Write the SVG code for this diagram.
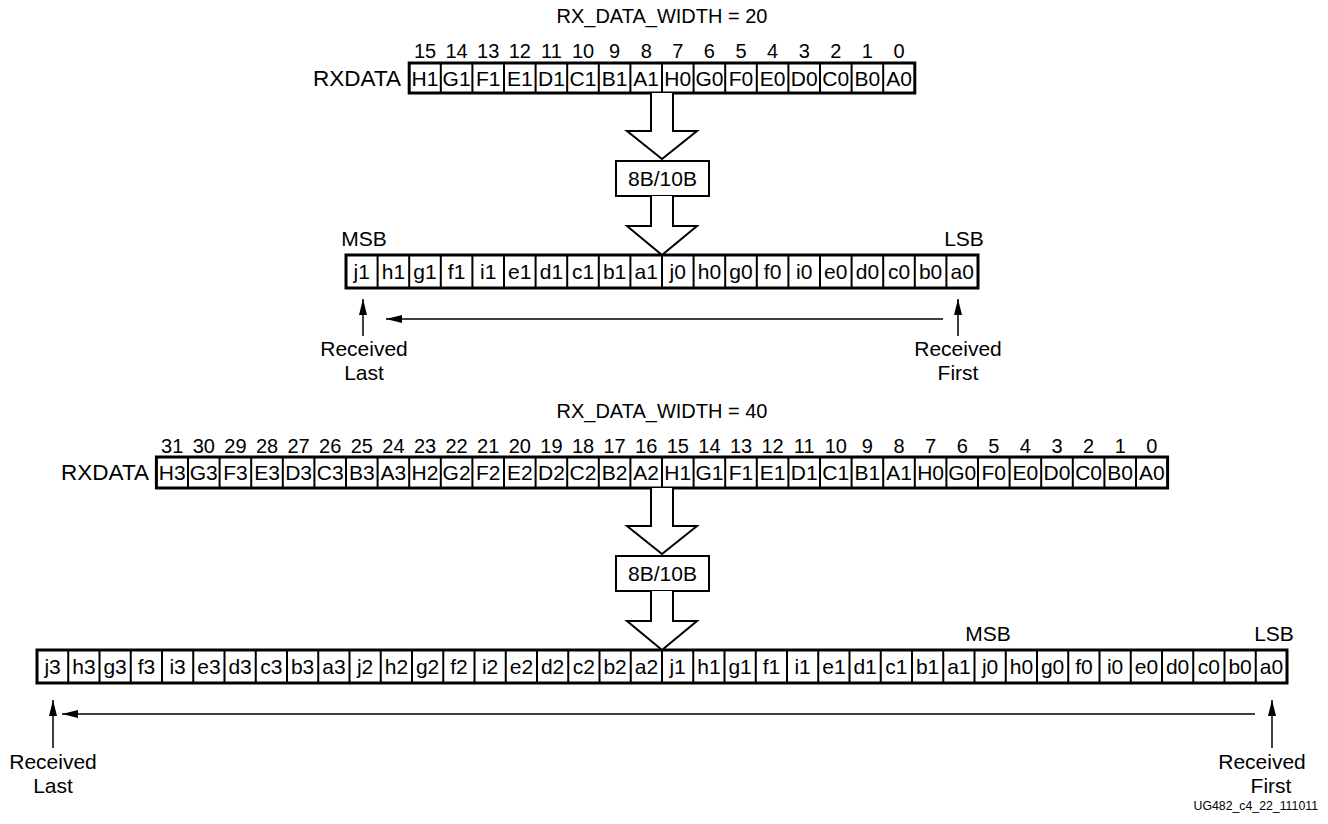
<svg xmlns="http://www.w3.org/2000/svg" width="1328" height="824" viewBox="0 0 1328 824">
<style>
text{font-family:"Liberation Sans",Arial,sans-serif;fill:#000}
.t20{font-size:20px}
.t21{font-size:21px}
.lbl{font-size:22.5px;text-anchor:end}
.n{font-size:20px;text-anchor:middle}
.c{font-size:21px;text-anchor:middle}
.m{text-anchor:middle}
.frame{fill:#fff;stroke:#000;stroke-width:3}
.div{fill:none;stroke:#000;stroke-width:2}
.hollow{fill:#fff;stroke:#000;stroke-width:2;stroke-linejoin:miter}
.box{fill:#fff;stroke:#000;stroke-width:2}
.thin{fill:none;stroke:#000;stroke-width:1.5;marker-end:url(#ah)}
</style>
<defs>
<marker id="ah" markerUnits="userSpaceOnUse" markerWidth="16" markerHeight="8" refX="16" refY="4" orient="auto">
<path d="M0,0 L16,4 L0,8 z" fill="#000"/>
</marker>
</defs>
<rect width="1328" height="824" fill="#fff"/>

<g id="title20"><text class="t20 m" x="662" y="23">RX_DATA_WIDTH = 20</text></g>

<g id="rxdata20">
<text class="lbl" x="401" y="86">RXDATA</text>
<text class="n" y="58"><tspan x="425">15</tspan><tspan x="456.6">14</tspan><tspan x="488.2">13</tspan><tspan x="519.8">12</tspan><tspan x="551.4">11</tspan><tspan x="583">10</tspan><tspan x="614.6">9</tspan><tspan x="646.2">8</tspan><tspan x="677.8">7</tspan><tspan x="709.4">6</tspan><tspan x="741">5</tspan><tspan x="772.6">4</tspan><tspan x="804.2">3</tspan><tspan x="835.8">2</tspan><tspan x="867.4">1</tspan><tspan x="899">0</tspan></text>
<rect class="frame" x="409.2" y="63" width="505.6" height="30"/>
<path class="div" d="M440.8,63v30m31.6-30v30m31.6-30v30m31.6-30v30m31.6-30v30m31.6-30v30m31.6-30v30m31.6-30v30m31.6-30v30m31.6-30v30m31.6-30v30m31.6-30v30m31.6-30v30m31.6-30v30m31.6-30v30"/>
<text class="c" y="85.5"><tspan x="425">H1</tspan><tspan x="456.6">G1</tspan><tspan x="488.2">F1</tspan><tspan x="519.8">E1</tspan><tspan x="551.4">D1</tspan><tspan x="583">C1</tspan><tspan x="614.6">B1</tspan><tspan x="646.2">A1</tspan><tspan x="677.8">H0</tspan><tspan x="709.4">G0</tspan><tspan x="741">F0</tspan><tspan x="772.6">E0</tspan><tspan x="804.2">D0</tspan><tspan x="835.8">C0</tspan><tspan x="867.4">B0</tspan><tspan x="899">A0</tspan></text>
</g>

<g id="enc20">
<rect class="box" x="616" y="161" width="93" height="35"/>
<text class="t21 m" x="662.5" y="186">8B/10B</text>
</g>

<g id="out20">
<rect class="frame" x="346" y="255" width="632" height="33"/>
<path class="div" d="M377.6,255v33m31.6-33v33m31.6-33v33m31.6-33v33m31.6-33v33m31.6-33v33m31.6-33v33m31.6-33v33m31.6-33v33m31.6-33v33m31.6-33v33m31.6-33v33m31.6-33v33m31.6-33v33m31.6-33v33m31.6-33v33m31.6-33v33m31.6-33v33m31.6-33v33"/>
<text class="c" y="279"><tspan x="361.8">j1</tspan><tspan x="393.4">h1</tspan><tspan x="425">g1</tspan><tspan x="456.6">f1</tspan><tspan x="488.2">i1</tspan><tspan x="519.8">e1</tspan><tspan x="551.4">d1</tspan><tspan x="583">c1</tspan><tspan x="614.6">b1</tspan><tspan x="646.2">a1</tspan><tspan x="677.8">j0</tspan><tspan x="709.4">h0</tspan><tspan x="741">g0</tspan><tspan x="772.6">f0</tspan><tspan x="804.2">i0</tspan><tspan x="835.8">e0</tspan><tspan x="867.4">d0</tspan><tspan x="899">c0</tspan><tspan x="930.6">b0</tspan><tspan x="962.2">a0</tspan></text>
<text class="t21 m" x="364" y="246">MSB</text>
<text class="t21 m" x="964" y="246">LSB</text>
</g>

<g id="recv20">
<text class="t21 m" x="364" y="356">Received</text>
<text class="t21 m" x="364" y="380">Last</text>
<text class="t21 m" x="958" y="356">Received</text>
<text class="t21 m" x="958" y="380">First</text>
</g>

<g id="title40"><text class="t20 m" x="662" y="418">RX_DATA_WIDTH = 40</text></g>

<g id="rxdata40">
<text class="lbl" x="149" y="480">RXDATA</text>
<text class="n" y="453"><tspan x="172.2">31</tspan><tspan x="203.8">30</tspan><tspan x="235.4">29</tspan><tspan x="267">28</tspan><tspan x="298.6">27</tspan><tspan x="330.2">26</tspan><tspan x="361.8">25</tspan><tspan x="393.4">24</tspan><tspan x="425">23</tspan><tspan x="456.6">22</tspan><tspan x="488.2">21</tspan><tspan x="519.8">20</tspan><tspan x="551.4">19</tspan><tspan x="583">18</tspan><tspan x="614.6">17</tspan><tspan x="646.2">16</tspan><tspan x="677.8">15</tspan><tspan x="709.4">14</tspan><tspan x="741">13</tspan><tspan x="772.6">12</tspan><tspan x="804.2">11</tspan><tspan x="835.8">10</tspan><tspan x="867.4">9</tspan><tspan x="899">8</tspan><tspan x="930.6">7</tspan><tspan x="962.2">6</tspan><tspan x="993.8">5</tspan><tspan x="1025.4">4</tspan><tspan x="1057">3</tspan><tspan x="1088.6">2</tspan><tspan x="1120.2">1</tspan><tspan x="1151.8">0</tspan></text>
<rect class="frame" x="156.4" y="457" width="1011.2" height="31"/>
<path class="div" d="M188,457v31m31.6-31v31m31.6-31v31m31.6-31v31m31.6-31v31m31.6-31v31m31.6-31v31m31.6-31v31m31.6-31v31m31.6-31v31m31.6-31v31m31.6-31v31m31.6-31v31m31.6-31v31m31.6-31v31m31.6-31v31m31.6-31v31m31.6-31v31m31.6-31v31m31.6-31v31m31.6-31v31m31.6-31v31m31.6-31v31m31.6-31v31m31.6-31v31m31.6-31v31m31.6-31v31m31.6-31v31m31.6-31v31m31.6-31v31m31.6-31v31"/>
<text class="c" y="480"><tspan x="172.2">H3</tspan><tspan x="203.8">G3</tspan><tspan x="235.4">F3</tspan><tspan x="267">E3</tspan><tspan x="298.6">D3</tspan><tspan x="330.2">C3</tspan><tspan x="361.8">B3</tspan><tspan x="393.4">A3</tspan><tspan x="425">H2</tspan><tspan x="456.6">G2</tspan><tspan x="488.2">F2</tspan><tspan x="519.8">E2</tspan><tspan x="551.4">D2</tspan><tspan x="583">C2</tspan><tspan x="614.6">B2</tspan><tspan x="646.2">A2</tspan><tspan x="677.8">H1</tspan><tspan x="709.4">G1</tspan><tspan x="741">F1</tspan><tspan x="772.6">E1</tspan><tspan x="804.2">D1</tspan><tspan x="835.8">C1</tspan><tspan x="867.4">B1</tspan><tspan x="899">A1</tspan><tspan x="930.6">H0</tspan><tspan x="962.2">G0</tspan><tspan x="993.8">F0</tspan><tspan x="1025.4">E0</tspan><tspan x="1057">D0</tspan><tspan x="1088.6">C0</tspan><tspan x="1120.2">B0</tspan><tspan x="1151.8">A0</tspan></text>
</g>

<g id="enc40">
<rect class="box" x="616" y="556" width="93" height="35"/>
<text class="t21 m" x="662.5" y="581">8B/10B</text>
</g>

<g id="out40">
<rect class="frame" x="37" y="650" width="1250" height="33"/>
<path class="div" d="M68.25,650v33m31.25-33v33m31.25-33v33m31.25-33v33m31.25-33v33m31.25-33v33m31.25-33v33m31.25-33v33m31.25-33v33m31.25-33v33m31.25-33v33m31.25-33v33m31.25-33v33m31.25-33v33m31.25-33v33m31.25-33v33m31.25-33v33m31.25-33v33m31.25-33v33m31.25-33v33m31.25-33v33m31.25-33v33m31.25-33v33m31.25-33v33m31.25-33v33m31.25-33v33m31.25-33v33m31.25-33v33m31.25-33v33m31.25-33v33m31.25-33v33m31.25-33v33m31.25-33v33m31.25-33v33m31.25-33v33m31.25-33v33m31.25-33v33m31.25-33v33m31.25-33v33"/>
<text class="c" y="674"><tspan x="52.6">j3</tspan><tspan x="83.9">h3</tspan><tspan x="115.1">g3</tspan><tspan x="146.4">f3</tspan><tspan x="177.6">i3</tspan><tspan x="208.9">e3</tspan><tspan x="240.1">d3</tspan><tspan x="271.4">c3</tspan><tspan x="302.6">b3</tspan><tspan x="333.9">a3</tspan><tspan x="365.1">j2</tspan><tspan x="396.4">h2</tspan><tspan x="427.6">g2</tspan><tspan x="458.9">f2</tspan><tspan x="490.1">i2</tspan><tspan x="521.4">e2</tspan><tspan x="552.6">d2</tspan><tspan x="583.9">c2</tspan><tspan x="615.1">b2</tspan><tspan x="646.4">a2</tspan><tspan x="677.6">j1</tspan><tspan x="708.9">h1</tspan><tspan x="740.1">g1</tspan><tspan x="771.4">f1</tspan><tspan x="802.6">i1</tspan><tspan x="833.9">e1</tspan><tspan x="865.1">d1</tspan><tspan x="896.4">c1</tspan><tspan x="927.6">b1</tspan><tspan x="958.9">a1</tspan><tspan x="990.1">j0</tspan><tspan x="1021.4">h0</tspan><tspan x="1052.6">g0</tspan><tspan x="1083.9">f0</tspan><tspan x="1115.1">i0</tspan><tspan x="1146.4">e0</tspan><tspan x="1177.6">d0</tspan><tspan x="1208.9">c0</tspan><tspan x="1240.1">b0</tspan><tspan x="1271.4">a0</tspan></text>
<text class="t21 m" x="988" y="641">MSB</text>
<text class="t21 m" x="1274" y="641">LSB</text>
</g>

<g id="recv40">
<text class="t21 m" x="53" y="769">Received</text>
<text class="t21 m" x="53" y="793">Last</text>
<text class="t21 m" x="1262" y="769">Received</text>
<text class="t21 m" x="1271" y="793">First</text>
</g>

<g id="connectors">
<path class="hollow" d="M651,93V131H627L662,159L697,131H673V93"/>
<path class="hollow" d="M651,196V226H627L662,255L697,226H673V196"/>
<path class="hollow" d="M651,488V526H627L662,554L697,526H673V488"/>
<path class="hollow" d="M651,591V621H627L662,650L697,621H673V591"/>
<line class="thin" x1="943" y1="319" x2="386" y2="319"/>
<line class="thin" x1="363" y1="336" x2="363" y2="299"/>
<line class="thin" x1="958" y1="336" x2="958" y2="299"/>
<line class="thin" x1="1255" y1="714" x2="62" y2="714"/>
<line class="thin" x1="53" y1="748" x2="53" y2="700"/>
<line class="thin" x1="1272" y1="748" x2="1272" y2="700"/>
</g>

<text x="1318" y="810" font-size="12.3" text-anchor="end">UG482_c4_22_111011</text>
</svg>
